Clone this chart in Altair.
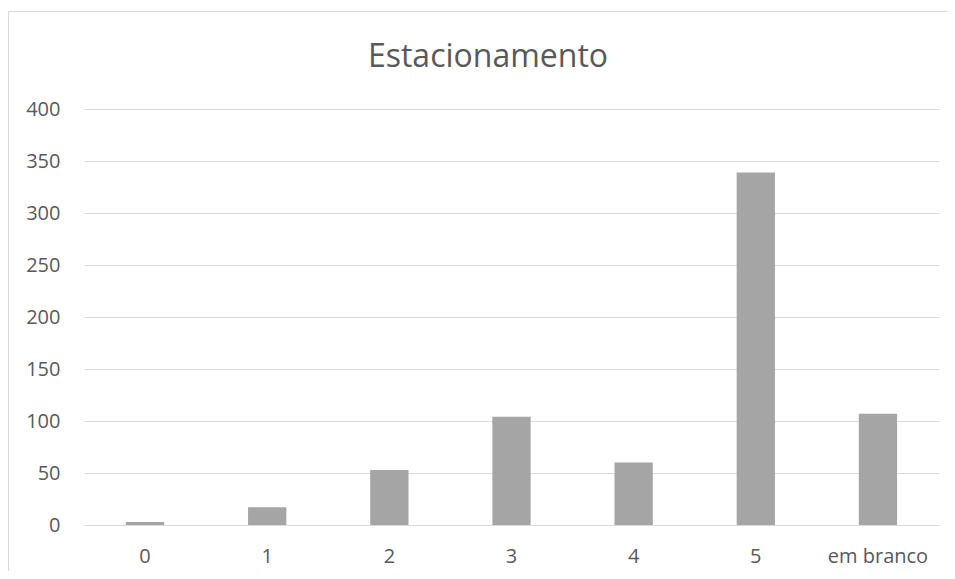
import altair as alt
import pandas as pd

categories = ["0", "1", "2", "3", "4", "5", "em branco"]
values = [3, 17, 53, 104, 60, 339, 107]
y_ticks = [0, 50, 100, 150, 200, 250, 300, 350, 400]
title_text = "Estacionamento"

df = pd.DataFrame({"categoria": categories, "valor": values})

FONT = "Open Sans"
TXT = "#595959"
GRID = "#d9d9d9"

one = pd.DataFrame({"k": [0]})

left_border = alt.Chart(one).mark_rule(color=GRID, strokeWidth=1).encode(
    x=alt.value(-75.5), y=alt.value(-97.5), y2=alt.value(462)
)
top_border = alt.Chart(one).mark_rule(color=GRID, strokeWidth=1).encode(
    x=alt.value(-75.5), x2=alt.value(863), y=alt.value(-97.5)
)

title = alt.Chart(one).mark_text(
    font=FONT, fontSize=32, color=TXT, align="center", baseline="alphabetic"
).encode(
    x=alt.value(404), y=alt.value(-42), text=alt.value(title_text)
)

bars = alt.Chart(df).mark_bar(color="#a5a5a5").encode(
    x=alt.X(
        "categoria:N",
        sort=categories,
        scale=alt.Scale(paddingInner=0.6865, paddingOuter=0.343),
        axis=alt.Axis(
            title=None, labelAngle=0, ticks=False, domain=True, domainColor=GRID,
            domainWidth=1, labelFont=FONT, labelFontSize=20, labelColor=TXT,
            labelPadding=21, grid=False,
        ),
    ),
    y=alt.Y(
        "valor:Q",
        scale=alt.Scale(domain=[0, 400], nice=False),
        axis=alt.Axis(
            title=None, values=y_ticks, ticks=False, domain=False, grid=True,
            gridColor=GRID, gridWidth=1, labelFont=FONT, labelFontSize=20,
            labelColor=TXT, labelPadding=24,
        ),
    ),
)

chart = alt.layer(left_border, top_border, title, bars).properties(
    width=855,
    height=416,
    autosize=alt.AutoSizeParams(type="none"),
    padding={"left": 76, "top": 101, "right": 8, "bottom": 46},
).configure_view(stroke=None)

chart.save("out.html", embed_options={"renderer": "svg", "actions": False})
